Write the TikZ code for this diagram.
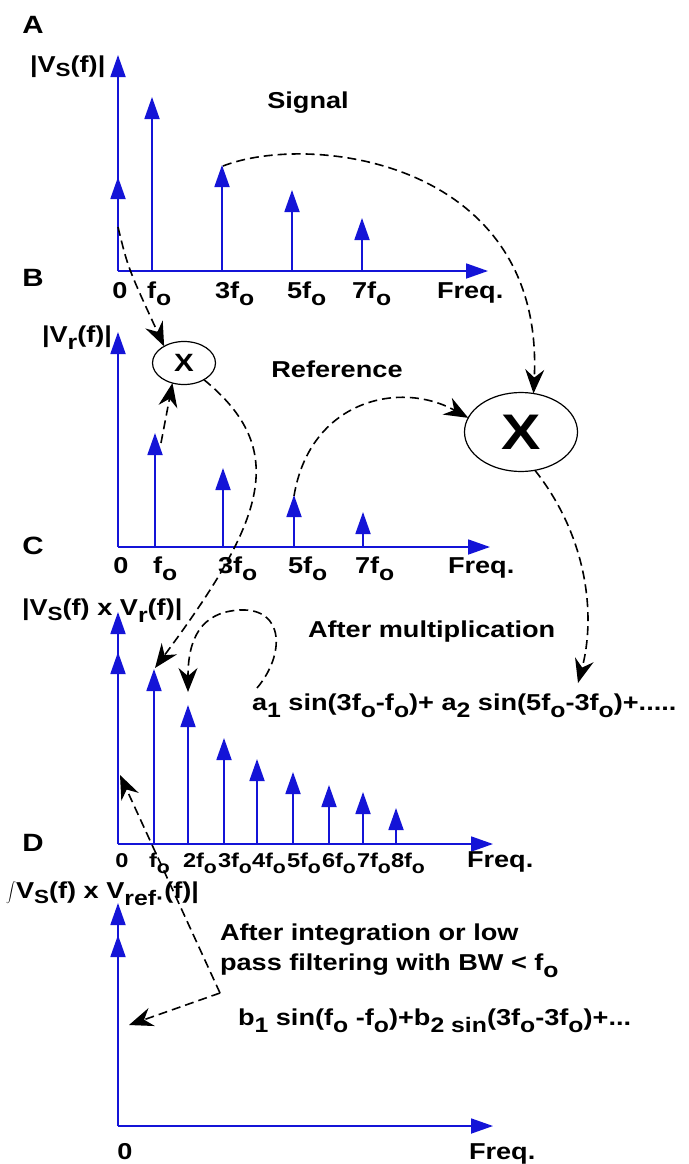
\documentclass[tikz,border=0pt]{standalone}
\usepackage{fontspec}
\setmainfont{Liberation Sans}[FakeStretch=1.18]
\usetikzlibrary{arrows.meta,shapes.geometric}
\definecolor{stemblue}{RGB}{20,20,215}
\newcommand\dn[1]{\raisebox{-7pt}{\fontsize{21}{21}\selectfont #1}}
\newcommand\dnS[1]{\raisebox{-5pt}{\fontsize{19}{19}\selectfont #1}}
\newcommand\dnc[1]{\raisebox{-6pt}{\fontsize{18}{18}\selectfont #1}}
\begin{document}
\begin{tikzpicture}[x=1pt,y=-1pt,
  txt/.style={font=\fontsize{23}{27}\selectfont\bfseries, inner sep=0pt, outer sep=0pt},
  lab/.style={txt, anchor=base west},
  labc/.style={txt, anchor=base},
  tick/.style={anchor=base west, font=\fontsize{20}{24}\selectfont\bfseries, inner sep=0pt, outer sep=0pt},
  bluestem/.style={draw=stemblue, line width=1.8pt, -{Triangle[length=22pt,width=15pt]}},
  conn/.style={draw=black, line width=1.6pt, dash pattern=on 9pt off 5pt, -{Stealth[length=24pt,width=19pt,inset=8pt]}},
  mult/.style={draw=black, line width=1.2pt, ellipse, inner sep=0pt, outer sep=0pt, font=\bfseries},
]
\fill[white] (0,0) rectangle (688,1164);
\path[use as bounding box] (0,0) rectangle (688,1164);

% ---------- Panel A ----------
\node[txt] (pA) at (33,25) {\fontsize{25}{25}\selectfont A};
\node[lab] (yA) at (30,72) {|V\dnS{S}(f)|};
\draw[bluestem] (118,271) -- (488,271);
\draw[bluestem] (118,271) -- (118,55);
\draw[bluestem] (118,271) -- (118,177);
\foreach \x/\y in {152/97,222/165,292/190,362/218} \draw[bluestem] (\x,271) -- (\x,\y);
\node[labc] (a0l) at (120,298) {0};
\node[lab] (a1l) at (147,298) {f\dn{o}};
\node[lab] (a3l) at (215,298) {3f\dn{o}};
\node[lab] (a5l) at (287,298) {5f\dn{o}};
\node[lab] (a7l) at (352,298) {7f\dn{o}};
\node[lab] (aFl) at (437,298) {Freq.};
\node[labc] (sig) at (308,108) {Signal};

% ---------- Panel B ----------
\node[txt] (pB) at (33,278) {\fontsize{25}{25}\selectfont B};
\node[lab] (yB) at (42,342) {|V\dn{r}(f)|};
\draw[bluestem] (118,547) -- (490,547);
\draw[bluestem] (118,547) -- (118,332);
\foreach \x/\y in {155/433,223/468,294/495,363/512} \draw[bluestem] (\x,547) -- (\x,\y);
\node[labc] (b0l) at (121,573) {0};
\node[lab] (b1l) at (153,573) {f\dn{o}};
\node[lab] (b3l) at (218,573) {3f\dn{o}};
\node[lab] (b5l) at (288,573) {5f\dn{o}};
\node[lab] (b7l) at (355,573) {7f\dn{o}};
\node[lab] (bFl) at (448,573) {Freq.};
\node[labc] (ref) at (337,377) {Reference};

% multipliers
\node[mult, minimum width=63pt, minimum height=43pt] (m1) at (184,363) {\fontsize{25}{25}\selectfont X};
\node[mult, minimum width=113pt, minimum height=79pt] (m2) at (521,432) {\fontsize{50}{50}\selectfont X};

% ---------- Panel C ----------
\node[txt] (pC) at (33,546) {\fontsize{25}{25}\selectfont C};
\node[lab] (yC) at (22,615) {|V\dnS{S}(f) x V\dn{r}(f)|};
\draw[bluestem] (118,844) -- (493,844);
\draw[bluestem] (118,844) -- (118,612);
\draw[bluestem] (118,844) -- (118,652);
\foreach \x/\y in {154/669,188/705,224/738,257/759,293/772,329/785,363/792,396/808} \draw[bluestem] (\x,844) -- (\x,\y);
\node[tick, anchor=base] (c0l) at (122,867) {0};
\node[tick] (c1l) at (149,867) {f\dnc{o}};
\node[tick] (c2l) at (183,867) {2f\dnc{o}};
\node[tick] (c3l) at (218,867) {3f\dnc{o}};
\node[tick] (c4l) at (252,867) {4f\dnc{o}};
\node[tick] (c5l) at (287,867) {5f\dnc{o}};
\node[tick] (c6l) at (322,867) {6f\dnc{o}};
\node[tick] (c7l) at (357,867) {7f\dnc{o}};
\node[tick] (c8l) at (391,867) {8f\dnc{o}};
\node[lab] (cFl) at (467,867) {Freq.};
\node[lab] (amul) at (308,637) {After multiplication};
\node[lab] (fa) at (252,710) {a\dn{1} sin(3f\dn{o}-f\dn{o})+ a\dn{2} sin(5f\dn{o}-3f\dn{o})+.....};

% ---------- Panel D ----------
\node[txt] (pD) at (33,843) {\fontsize{25}{25}\selectfont D};
\draw[bluestem] (118,1126) -- (493,1126);
\draw[bluestem] (118,1126) -- (118,903);
\draw[bluestem] (118,1126) -- (118,935);
\node[lab] (yD) at (6,898) {{\fontsize{22}{22}\selectfont$\displaystyle\int$}V\dnS{S}(f) x V\dn{ref·}(f)|};
\node[labc] (d0l) at (125,1159) {0};
\node[lab] (dFl) at (469,1159) {Freq.};
\node[lab] (aint1) at (220,940) {After integration or low};
\node[lab] (aint2) at (220,970) {pass filtering with BW < f\dn{o}};
\node[lab] (fb) at (238,1025) {b\dn{1} sin(f\dn{o} -f\dn{o})+b\dn{2 sin}(3f\dn{o}-3f\dn{o})+...};

% ---------- connector end points ----------
\coordinate (ta0) at (118,227);
\coordinate (ta3) at (223,166);
\coordinate (tb1) at (161,443);
\coordinate (tb5) at (294,496);
\coordinate (tc1) at (155,668);
\coordinate (tc2) at (188,692);
\coordinate (tc0) at (120,775);
\coordinate (td0) at (129,1025);
\coordinate (fa1) at (257,688);
\coordinate (fa2) at (578,683);
\coordinate (pk) at (220,993);
\coordinate (lp) at (240,610);

% ---------- connectors ----------
\draw[conn] (ta0) .. controls (128,268) .. (m1.140);
\draw[conn] (tb1) -- (m1.240);
\draw[conn] (m1.-40) .. controls (290,450) and (265,520) .. (tc1);
\draw[conn] (ta3) .. controls (310,132) and (545,160) .. (m2.72);
\draw[conn] (tb5) .. controls (310,400) and (400,380) .. (m2.165);
\draw[conn] (m2.-70) .. controls (590,540) and (595,620) .. (fa2);
\draw[conn] (fa1) .. controls (285,655) and (285,608) .. (lp) .. controls (200,612) and (188,640) .. (tc2);
\draw[conn] (pk) -- (tc0);
\draw[conn] (pk) -- (td0);
\end{tikzpicture}
\end{document}
